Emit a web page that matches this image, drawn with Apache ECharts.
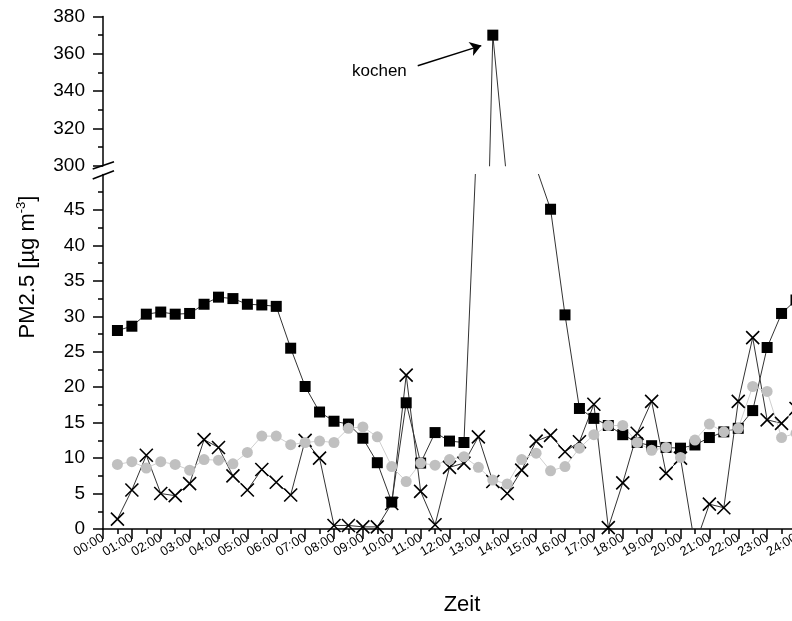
<!DOCTYPE html>
<html>
<head>
<meta charset="utf-8">
<script src="https://cdn.jsdelivr.net/npm/echarts@6/dist/echarts.min.js"></script>
<style>
html,body{margin:0;padding:0;background:#fff;}
#chart{width:792px;height:621px;}
</style>
</head>
<body>
<div id="chart"></div>
<script>
// time of day in hours (half-hour samples)
const hours = [0.5,1,1.5,2,2.5,3,3.5,4,4.5,5,5.5,6,6.5,7,7.5,8,8.5,9,9.5,10,10.5,11,11.5,12,12.5,13,13.5,14,14.5,15,15.5,16,16.5,17,17.5,18,18.5,19,19.5,20,20.5,21,21.5,22,22.5,23,23.5,24];
// black squares (values inside the axis break are estimates)
const pmSquares = [28.0,28.6,30.3,30.6,30.3,30.4,31.7,32.7,32.5,31.7,31.6,31.4,25.5,20.1,16.5,15.2,14.8,12.8,9.35,3.8,17.8,9.3,13.6,12.4,12.2,60,370,290,120,51,45.1,30.2,17.0,15.6,14.6,13.3,12.2,11.75,11.5,11.4,11.85,12.9,13.7,14.2,16.7,25.6,30.4,32.3];
// grey circles
const pmCircles = [9.1,9.5,8.6,9.5,9.1,8.3,9.8,9.7,9.2,10.8,13.1,13.1,11.9,12.2,12.4,12.2,14.2,14.4,13.0,8.8,6.7,9.3,9.0,9.8,10.2,8.7,6.9,6.35,9.8,10.7,8.2,8.8,11.4,13.3,14.6,14.6,12.2,11.1,11.5,10.1,12.55,14.8,13.7,14.2,20.1,19.4,12.9,13.5];
// crosses
const pmCrosses = [1.4,5.5,10.4,5.0,4.7,6.4,12.6,11.5,7.5,5.5,8.4,6.6,4.8,12.5,10.0,0.5,0.5,0.3,0.3,3.6,21.7,5.3,0.6,8.7,9.3,13.0,6.7,5.0,8.3,12.4,13.2,10.9,12.3,17.6,0.2,6.5,13.5,18.0,7.85,10.0,-2.3,3.5,3.0,18.0,27.0,15.4,14.9,17.0];

const xTickLabels = ['00:00','01:00','02:00','03:00','04:00','05:00','06:00','07:00','08:00','09:00','10:00','11:00','12:00','13:00','14:00','15:00','16:00','17:00','18:00','19:00','20:00','21:00','22:00','23:00','24:00'];
const lowerTicks = [0,5,10,15,20,25,30,35,40,45];
const upperTicks = [300,320,340,360,380];

const annotText = 'kochen';
const arrowStart = [10.9, 353.6];
const arrowEnd = [13.1, 364.4];

const pairs = arr => hours.map((h, i) => [h, arr[i]]);
const FONT = 'Liberation Sans, Arial, sans-serif';

const chart = echarts.init(document.getElementById('chart'), null, {renderer: 'canvas'});

const baseY = {
  type: 'value',
  axisLine: {show: true, lineStyle: {color: '#000', width: 1.5}},
  axisTick: {show: true, inside: false, length: 10, lineStyle: {color: '#000', width: 1.5}},
  minorTick: {show: true, splitNumber: 2, length: 5, lineStyle: {color: '#000', width: 1.5}},
  splitLine: {show: false},
  axisLabel: {color: '#000', fontSize: 19, fontFamily: FONT, margin: 18}
};

const lineCommon = {
  type: 'line',
  clip: true,
  animation: false,
  silent: true
};

const crossSymbol = 'path://M0,0L10,10M10,0L0,10';

const option = {
  animation: false,
  backgroundColor: '#fff',
  grid: [
    {left: 103, top: 16.5, width: 693, height: 149.2, outerBoundsMode: 'none', containLabel: false},
    {left: 103, top: 174.5, width: 693, height: 354.5, outerBoundsMode: 'none', containLabel: false}
  ],
  xAxis: [
    {type: 'value', gridIndex: 0, min: 0, max: 24, interval: 1, show: false},
    {
      type: 'value', gridIndex: 1, min: 0, max: 24, interval: 1,
      axisLine: {show: true, onZero: false, lineStyle: {color: '#000', width: 1.5}},
      axisTick: {show: true, length: 10, lineStyle: {color: '#000', width: 1.5}},
      minorTick: {show: true, splitNumber: 2, length: 5, lineStyle: {color: '#000', width: 1.5}},
      splitLine: {show: false},
      axisLabel: {
        color: '#000', fontSize: 13, fontFamily: FONT, rotate: 30, margin: 8,
        showMaxLabel: true, showMinLabel: true, hideOverlap: false,
        formatter: v => xTickLabels[Math.round(v)]
      }
    }
  ],
  yAxis: [
    Object.assign({}, baseY, {
      gridIndex: 0, min: 300, max: 380, interval: 20,
      axisTick: Object.assign({}, baseY.axisTick, {customValues: upperTicks}),
      axisLabel: Object.assign({}, baseY.axisLabel, {customValues: upperTicks})
    }),
    Object.assign({}, baseY, {
      gridIndex: 1, min: 0, max: 50, interval: 5,
      axisTick: Object.assign({}, baseY.axisTick, {customValues: lowerTicks}),
      axisLabel: Object.assign({}, baseY.axisLabel, {customValues: lowerTicks})
    })
  ],
  series: [
    Object.assign({}, lineCommon, {
      name: 'squares', xAxisIndex: 1, yAxisIndex: 1,
      data: pairs(pmSquares),
      symbol: 'rect', symbolSize: 11,
      itemStyle: {color: '#000'},
      lineStyle: {color: '#333', width: 1}
    }),
    Object.assign({}, lineCommon, {
      name: 'crosses', xAxisIndex: 1, yAxisIndex: 1,
      data: pairs(pmCrosses),
      symbol: crossSymbol, symbolSize: 13,
      itemStyle: {color: 'rgba(0,0,0,0)', borderColor: '#000', borderWidth: 1.6},
      lineStyle: {color: '#333', width: 1}
    }),
    Object.assign({}, lineCommon, {
      name: 'circles', xAxisIndex: 1, yAxisIndex: 1,
      data: pairs(pmCircles),
      symbol: 'circle', symbolSize: 11,
      itemStyle: {color: '#c0c0c0'},
      lineStyle: {color: '#cfcfcf', width: 1}
    }),
    Object.assign({}, lineCommon, {
      name: 'squaresUpper', xAxisIndex: 0, yAxisIndex: 0,
      data: pairs(pmSquares),
      symbol: 'rect', symbolSize: 11,
      itemStyle: {color: '#000'},
      lineStyle: {color: '#333', width: 1},
      markLine: {
        silent: true,
        symbol: ['none', 'arrow'],
        symbolSize: 11,
        label: {show: false},
        lineStyle: {color: '#000', width: 1.5, type: 'solid'},
        data: [[{coord: arrowStart}, {coord: arrowEnd}]]
      }
    })
  ],
  graphic: [
    {type: 'line', silent: true, shape: {x1: 92.7, y1: 169, x2: 114, y2: 161.7}, style: {stroke: '#000', lineWidth: 1.6}},
    {type: 'line', silent: true, shape: {x1: 92.7, y1: 179, x2: 114, y2: 170.7}, style: {stroke: '#000', lineWidth: 1.6}},
    {type: 'text', silent: true, x: 352, y: 71,
      style: {text: annotText, fill: '#000', font: '17px ' + FONT, verticalAlign: 'middle', align: 'left'}},
    {type: 'text', silent: true, x: 462, y: 605,
      style: {text: 'Zeit', fill: '#000', font: '22px ' + FONT, verticalAlign: 'middle', align: 'center'}},
    {type: 'text', silent: true, x: 28, y: 267, rotation: Math.PI / 2,
      style: {
        text: '{a|PM2.5 [µg m}{s|-3}{a|]}',
        align: 'center', verticalAlign: 'middle',
        rich: {
          a: {fontSize: 22, fontFamily: FONT, fill: '#000', lineHeight: 26},
          s: {fontSize: 13, fontFamily: FONT, fill: '#000', verticalAlign: 'top', lineHeight: 26, padding: [0, 0, 8, 0]}
        }
      }}
  ]
};

chart.setOption(option);
</script>
</body>
</html>
